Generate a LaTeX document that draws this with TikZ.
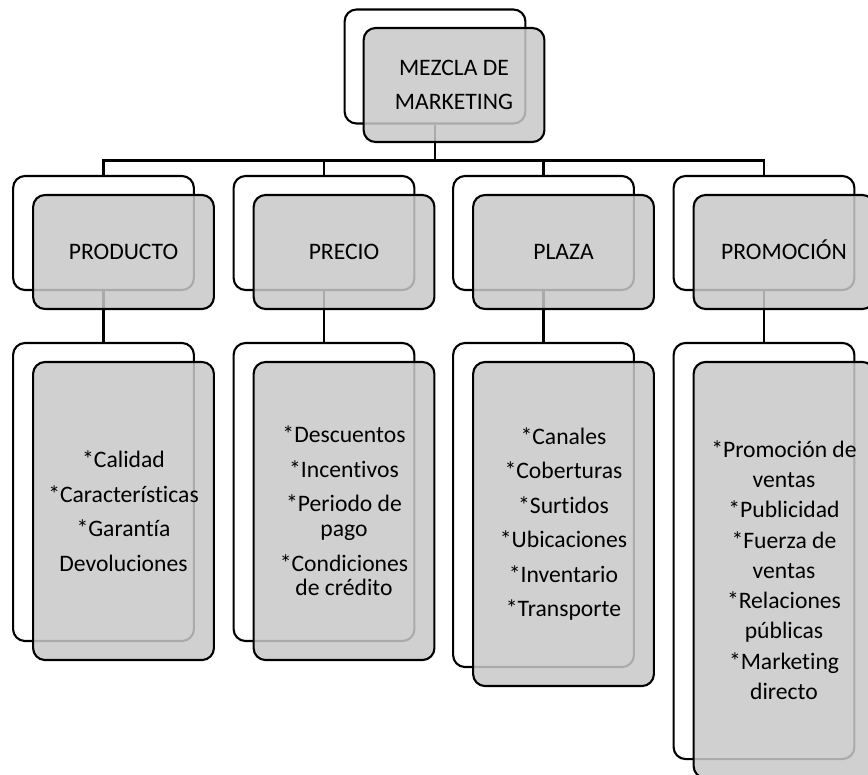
\documentclass[tikz,border=0pt]{standalone}
\usepackage{fontspec}
\setmainfont{Carlito}[Ligatures=NoCommon]
\definecolor{boxgray}{RGB}{200,200,200}
\tikzset{
  box/.style={draw, line width=1.5pt, rounded corners=0.3cm, inner sep=0pt},
  back/.style={box},
  front/.style={box, fill=boxgray, fill opacity=0.85, text opacity=1, align=center,
    font=\fontsize{16.8}{24.6}\selectfont},
  head/.style={minimum width=4.52cm, minimum height=2.85cm},
  conn/.style={draw, line width=1.9pt}
}
\begin{document}
\begin{tikzpicture}[x=0.025cm, y=-0.025cm]
        \useasboundingbox (0,0) rectangle (868,775);
        \node[back, head] (1b) at (435,66.5) {};
        \node[back, head] (2b) at (103.5,233) {};
        \node[back, head] (3b) at (324,233) {};
        \node[back, head] (4b) at (543.5,233) {};
        \node[back, head] (5b) at (764,233) {};
        \node[back, minimum width=4.52cm, minimum height=7.45cm] (6b) at (103.5,492) {};
        \node[back, minimum width=4.52cm, minimum height=7.45cm] (7b) at (324,492) {};
        \node[back, minimum width=4.52cm, minimum height=8.1cm] (8b) at (543.5,505) {};
        \node[back, minimum width=4.52cm, minimum height=10.4cm] (9b) at (764,551) {};

        \path[conn] (1b.south) -- ++(0,36) -| (2b.north);
        \path[conn] (1b.south) -- ++(0,36) -| (3b.north);
        \path[conn] (1b.south) -- ++(0,36) -| (4b.north);
        \path[conn] (1b.south) -- ++(0,36) -| (5b.north);
        \path[conn] (2b.south) -- (6b.north);
        \path[conn] (3b.south) -- (7b.north);
        \path[conn] (4b.south) -- (8b.north);
        \path[conn] (5b.south) -- (9b.north);

        \node[front, head] (1) at (454,85) {MEZCLA DE\\MARKETING};
        \node[front, head] (2) at (123.5,252) {PRODUCTO};
        \node[front, head] (3) at (344,252) {PRECIO};
        \node[front, head] (4) at (563.5,252) {PLAZA};
        \node[front, head] (5) at (784,252) {PROMOCI\smash{Ó}N};
        \node[front, minimum width=4.52cm, minimum height=7.45cm] (6) at (123.5,511)
            {*Calidad\\*Características\\*Garantía\\Devoluciones};
        \node[front, minimum width=4.52cm, minimum height=7.45cm] (7) at (344,511)
            {*Descuentos\\*Incentivos\\*Periodo de\\[-7pt]pago\\*Condiciones\\[-7pt]de crédito};
        \node[front, minimum width=4.52cm, minimum height=8.1cm] (8) at (563.5,524)
            {*Canales\\*Coberturas\\*Surtidos\\*Ubicaciones\\*Inventario\\*Transporte};
        \node[front, minimum width=4.52cm, minimum height=10.4cm,
            font=\fontsize{16.8}{21.5}\selectfont] (9) at (784,570)
            {*Promoción de\\ventas\\*Publicidad\\*Fuerza de\\ventas\\*Relaciones\\públicas\\*Marketing\\directo};
    \end{tikzpicture}
\end{document}
